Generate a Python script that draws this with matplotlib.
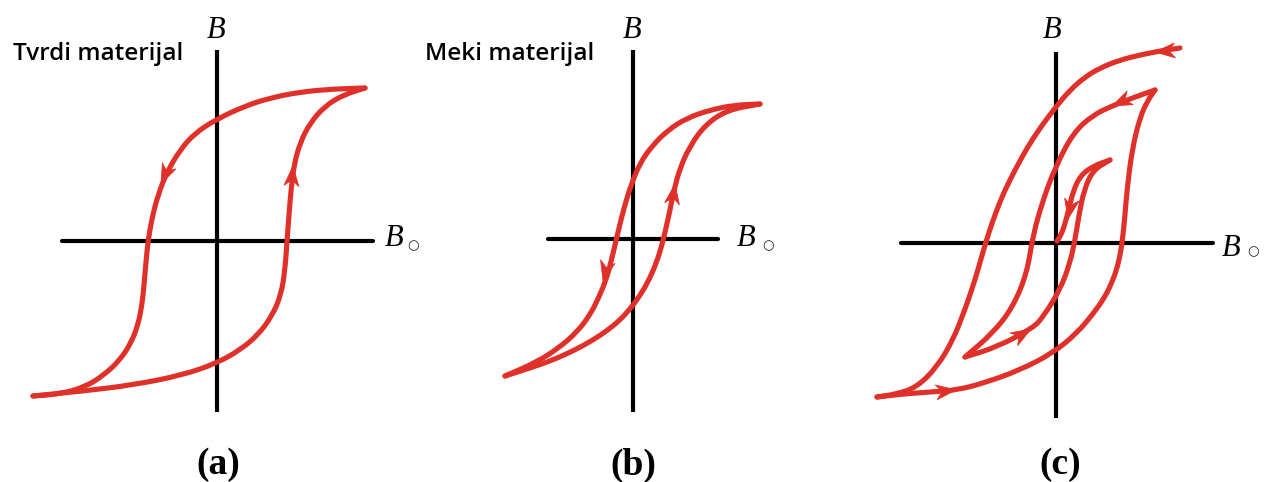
import matplotlib
matplotlib.use("Agg")
import matplotlib.pyplot as plt
from matplotlib.path import Path
from matplotlib.patches import PathPatch, Polygon
import numpy as np

W, H = 1267, 482
RED = "#E0302A"

# ---- panel (a): hard material (picture pixel coordinates) ----
a_desc_x = [365, 333, 300, 270, 245, 217, 195, 180, 167, 158, 152, 148, 146, 144, 142, 138, 131, 120, 104, 85, 60, 33]
a_desc_y = [88, 89, 92, 98, 106, 119, 133, 150, 172, 195, 218, 241, 262, 285, 305, 325, 343, 360, 375, 387, 394, 396]
a_asc_x = [33, 83, 133, 183, 217, 240, 258, 272, 281, 285, 287, 289, 291, 294, 300, 310, 325, 343, 365]
a_asc_y = [396, 391, 385, 375, 363, 350, 335, 316, 295, 270, 241, 215, 190, 165, 143, 123, 106, 95, 88]

# ---- panel (b): soft material ----
b_desc_x = [760, 735, 710, 687, 668, 652, 640, 631, 624, 619, 615, 611, 606, 599, 590, 577, 560, 537, 505]
b_desc_y = [104, 105, 110, 118, 130, 146, 163, 185, 208, 228, 245, 262, 280, 297, 315, 332, 347, 362, 376]
b_asc_x = [505, 530, 553, 575, 593, 608, 620, 630, 639, 648, 656, 662, 666, 670, 674, 680, 690, 705, 727, 760]
b_asc_y = [376, 368, 360, 350, 340, 330, 320, 309, 297, 282, 264, 245, 228, 210, 190, 168, 146, 125, 110, 104]

# ---- panel (c): nested loops, one continuous trace ----
c_outer_desc_x = [1180, 1160, 1140, 1120, 1100, 1085, 1070, 1055, 1040, 1027, 1015, 1004, 996, 989, 983, 977, 971, 964, 953, 937, 917, 897, 877]
c_outer_desc_y = [48, 51, 55, 60, 68, 77, 90, 108, 128, 148, 170, 192, 212, 232, 252, 273, 292, 312, 340, 367, 387, 394, 397]
c_outer_asc_x = [877, 903, 930, 958, 987, 1020, 1053, 1077, 1093, 1105, 1113, 1118, 1121, 1123, 1125, 1127, 1132, 1140, 1148, 1155]
c_outer_asc_y = [397, 394, 392, 390, 382, 370, 353, 333, 314, 297, 280, 265, 250, 235, 215, 190, 150, 117, 100, 90]
c_mid_desc_x = [1155, 1135, 1112, 1093, 1073, 1055, 1043, 1033, 1027, 1013, 993, 965]
c_mid_desc_y = [90, 97, 106, 115, 133, 168, 200, 235, 273, 307, 333, 357]
c_mid_asc_x = [965, 997, 1033, 1043, 1060, 1070, 1075, 1079, 1084, 1093, 1110]
c_mid_asc_y = [357, 347, 328, 317, 290, 263, 240, 215, 190, 170, 160]
c_in_desc_x = [1110, 1093, 1080, 1073, 1069, 1065, 1061, 1057]
c_in_desc_y = [160, 166, 176, 192, 208, 224, 235, 241]

# ---- arrows: tip position and direction ----
arrow_x = [161, 293, 603, 675, 1155, 1112, 956, 1031, 1068]
arrow_y = [184, 166, 281, 184, 52, 106, 390, 329, 219]
arrow_dx = [-0.45, 0.08, -0.25, 0.15, -1.0, -1.0, 1.0, 1.0, -0.2]
arrow_dy = [1.0, -1.0, 1.0, -1.0, 0.08, 0.45, -0.12, -0.6, 1.0]

# ---- coordinate axes: (x0, x1, y) horizontal, (x, y0, y1) vertical ----
hax = [(62, 373, 241), (548, 718, 239), (901, 1213, 243)]
vax = [(217, 50, 412), (633, 50, 412), (1056, 52, 418)]
panel_labels = ["(a)", "(b)", "(c)"]
panel_label_x = [218, 633, 1060]
titles = ["Tvrdi materijal", "Meki materijal"]
title_x = [13, 425]
B_top_x = [216, 632, 1052]
B_right_x = [385, 737, 1222]
B_right_y = [238, 238, 249]
ring_x = [413, 768, 1253]
ring_y = [246, 246, 252]


fig = plt.figure(figsize=(W / 100, H / 100), dpi=100)
ax = fig.add_axes([0, 0, 1, 1])
ax.set_xlim(0, W)
ax.set_ylim(H, 0)
ax.axis("off")


def smooth_path(xs, ys):
    pts = np.column_stack([xs, ys]).astype(float)
    verts = [pts[0], (pts[0] + pts[1]) / 2]
    codes = [Path.MOVETO, Path.LINETO]
    for i in range(1, len(pts) - 1):
        verts += [pts[i], (pts[i] + pts[i + 1]) / 2]
        codes += [Path.CURVE3, Path.CURVE3]
    verts.append(pts[-1])
    codes.append(Path.LINETO)
    return Path(verts, codes)


def draw_curve(xs, ys):
    p = PathPatch(smooth_path(xs, ys), fill=False, edgecolor=RED, lw=3.7,
                  capstyle="round", joinstyle="round", zorder=3)
    ax.add_patch(p)


for x0, x1, y in hax:
    ax.plot([x0, x1], [y, y], color="black", lw=3.0, solid_capstyle="round", zorder=2)
for x, y0, y1 in vax:
    ax.plot([x, x], [y0, y1], color="black", lw=3.0, solid_capstyle="butt", zorder=2)

for xs, ys in [(a_desc_x, a_desc_y), (a_asc_x, a_asc_y),
               (b_desc_x, b_desc_y), (b_asc_x, b_asc_y),
               (c_outer_desc_x, c_outer_desc_y), (c_outer_asc_x, c_outer_asc_y),
               (c_mid_desc_x, c_mid_desc_y), (c_mid_asc_x, c_mid_asc_y),
               (c_in_desc_x, c_in_desc_y)]:
    draw_curve(xs, ys)


def stealth(xt, yt, dx, dy, L=20, Wd=15):
    d = np.array([dx, dy], float)
    d /= np.linalg.norm(d)
    n = np.array([-d[1], d[0]])
    tip = np.array([xt, yt], float)
    base = tip - L * d
    pts = [tip, base + n * Wd / 2, tip - 0.7 * L * d, base - n * Wd / 2]
    ax.add_patch(Polygon(pts, closed=True, facecolor=RED, edgecolor=RED, lw=0.5, zorder=4))


for xt, yt, dx, dy in zip(arrow_x, arrow_y, arrow_dx, arrow_dy):
    stealth(xt, yt, dx, dy)

for lab, x in zip(panel_labels, panel_label_x):
    ax.text(x, 465, lab, fontsize=27, fontweight="bold", family="Liberation Serif",
            ha="center", va="center")
for t, x in zip(titles, title_x):
    ax.text(x, 60, t, fontsize=17.5, fontweight="semibold", family="Open Sans",
            ha="left", va="baseline")
for x in B_top_x:
    ax.text(x, 31, "B", fontsize=22, style="italic", family="Liberation Serif",
            ha="center", va="center")
for x, y in zip(B_right_x, B_right_y):
    ax.text(x, y, "B", fontsize=22, style="italic", family="Liberation Serif",
            ha="left", va="center")
for x, y in zip(ring_x, ring_y):
    ax.text(x, y, "\u25cb", fontsize=9.5, family="DejaVu Sans", color="#1a1a1a",
            ha="center", va="center")

fig.savefig("out.png", dpi=100)
